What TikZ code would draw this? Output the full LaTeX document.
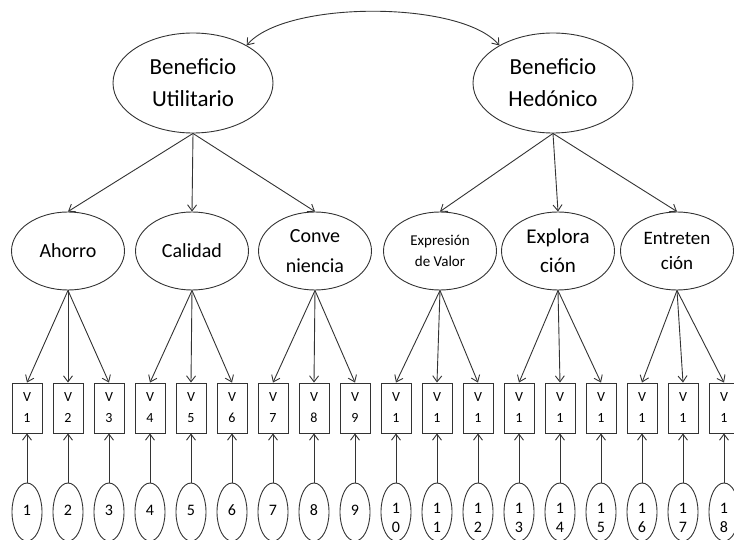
\documentclass[tikz,border=0pt]{standalone}
\usepackage{fontspec}
\setmainfont{Carlito}
\usetikzlibrary{arrows.meta, positioning, shapes.geometric}

\begin{document}
\begin{tikzpicture}[x=1pt, y=1pt,
    >={Straight Barb[length=6pt,width=9pt]},
    factor/.style={draw=black!80, line width=0.9pt, ellipse, inner sep=0pt,
      minimum width=160pt, minimum height=100pt, align=center,
      font=\fontsize{23}{32}\selectfont},
    dimen/.style={draw=black!80, line width=0.9pt, ellipse, inner sep=0pt,
      minimum width=113pt, minimum height=78pt, align=center,
      font=\fontsize{20}{30}\selectfont},
    item/.style={draw=black!80, line width=0.9pt, rectangle, inner sep=0pt,
      minimum width=30pt, minimum height=50pt, align=center,
      font=\fontsize{14}{21}\selectfont},
    err/.style={draw=black!80, line width=0.9pt, ellipse, inner sep=0pt,
      minimum width=30pt, minimum height=58pt},
    errnum/.style={inner sep=0pt, font=\fontsize{16}{20}\selectfont},
    link/.style={->, draw=black!80, line width=0.9pt}]
  \useasboundingbox (0,0) rectangle (734,539);
  \clip (0,0) rectangle (734,539);

  % second order factors
  \node[factor] (util) at (193,456) {Beneficio\\Utilitario};
  \node[factor] (hedo) at (553,456) {Beneficio\\Hedónico};
  \draw[link, <->] (util.35) to[out=50, in=130, looseness=0.6] (hedo.145);

  % first order factors
  \node[dimen] (ahorro)  at (68,288)  {Ahorro};
  \node[dimen] (calidad) at (192,288) {Calidad};
  \node[dimen] (conv)    at (315,288) {Conve\\niencia};
  \node[dimen, font=\fontsize{15}{21}\selectfont] (expr) at (440,288) {Expresión\\de Valor};
  \node[dimen, font=\fontsize{21}{29}\selectfont] (explo) at (558,288) {Explora\\ción};
  \node[dimen, font=\fontsize{19}{25}\selectfont] (entre) at (677,288) {Entreten\\ción};

  \foreach \d in {ahorro, calidad, conv}
    \draw[link] (util.south) -- (\d.north);
  \foreach \d in {expr, explo, entre}
    \draw[link] (hedo.south) -- (\d.north);

  % items and errors
  \foreach \i in {1,...,18} {
    \pgfmathsetmacro\x{27+41*(\i-1)}
    \ifnum\i<10
      \node[item] (v\i) at (\x,131) {V\\\i};
      \node[err] (e\i) at (\x,27) {};
      \node[errnum] at (\x,29) {\i};
    \else
      \pgfmathtruncatemacro\u{\i-10}
      \node[item] (v\i) at (\x,131) {V\\1};
      \node[err] (e\i) at (\x,27) {};
      \node[errnum] at (\x,31) {1};
      \node[errnum] at (\x,12) {\u};
    \fi
    \draw[link] (e\i.north) -- (v\i.south);
  }

  \foreach \d [count=\k] in {ahorro, calidad, conv, expr, explo, entre}
    \foreach \j in {1,2,3} {
      \pgfmathtruncatemacro\i{3*(\k-1)+\j}
      \draw[link] (\d.south) -- (v\i.north);
    }
\end{tikzpicture}
\end{document}
